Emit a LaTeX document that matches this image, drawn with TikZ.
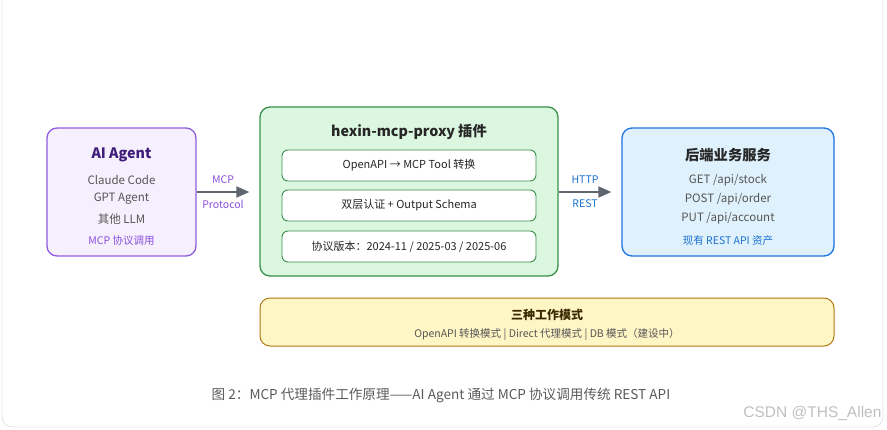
\documentclass[tikz,border=0pt]{standalone}
\usepackage{fontspec}
\setmainfont{Noto Sans CJK SC}
\newfontfamily\wmfont{Liberation Sans}
\usetikzlibrary{arrows.meta}
\definecolor{pBorder}{HTML}{8E5CE0}
\definecolor{pFill}{HTML}{F6EFFE}
\definecolor{pTitle}{HTML}{3F1D7A}
\definecolor{pText}{HTML}{8A4FDC}
\definecolor{gBorder}{HTML}{3A8F4A}
\definecolor{gFill}{HTML}{DCF7DF}
\definecolor{bBorder}{HTML}{1F74E0}
\definecolor{bFill}{HTML}{DFF1FC}
\definecolor{bText}{HTML}{1A6FD0}
\definecolor{yBorder}{HTML}{B07A10}
\definecolor{yFill}{HTML}{FFF6C6}
\definecolor{yTitle}{HTML}{3A2800}
\definecolor{txtGray}{HTML}{555555}
\definecolor{arrGray}{HTML}{5F6670}
\definecolor{capGray}{HTML}{5A5A5A}
\tikzset{
  bigbox/.style={draw, line width=1.3pt, rounded corners=10pt, inner sep=0pt},
  innerbox/.style={draw=gBorder, fill=white, line width=0.9pt, rounded corners=6pt, inner sep=0pt,
    minimum width=254pt, minimum height=31pt, font=\fontsize{11}{13}\selectfont, text=black!85},
  titletxt/.style={font=\fontsize{14.3}{16}\selectfont\bfseries},
  linetxt/.style={font=\fontsize{11.5}{14}\selectfont, text=txtGray},
  smalltxt/.style={font=\fontsize{10.5}{13}\selectfont},
  flow/.style={draw=arrGray, line width=1.8pt, -{Triangle[length=13pt,width=11pt]}}
}
\begin{document}
\begin{tikzpicture}[x=1pt,y=-1pt]
\useasboundingbox (0,0) rectangle (887,429);
\draw[gray!22, line width=0.8pt, rounded corners=10pt] (2,-12) rectangle (883,427);

% AI Agent
\node[bigbox, draw=pBorder, fill=pFill, minimum width=149pt, minimum height=128pt] (agent) at (121.5,192) {};
\node[titletxt, text=pTitle] (agentT) at (121.5,155) {AI Agent};
\node[linetxt] (a1) at (121.5,180) {Claude Code};
\node[linetxt] (a2) at (121.5,199) {GPT Agent};
\node[linetxt] (a3) at (121.5,219) {其他 LLM};
\node[smalltxt, text=pText] (a4) at (121.5,241) {MCP 协议调用};

% Proxy
\node[bigbox, draw=gBorder, fill=gFill, minimum width=298pt, minimum height=169pt] (proxy) at (409,191.5) {};
\node[titletxt, text=black!85] (proxyT) at (409,132) {hexin-mcp-proxy 插件};
\node[innerbox] (p1) at (409,165.5) {OpenAPI → MCP Tool 转换};
\node[innerbox] (p2) at (409,205.5) {双层认证 + Output Schema};
\node[innerbox] (p3) at (409,246.5) {协议版本：2024-11 / 2025-03 / 2025-06};

% Backend
\node[bigbox, draw=bBorder, fill=bFill, minimum width=212pt, minimum height=128pt] (backend) at (728,192) {};
\node[titletxt, text=black!85] (backT) at (728,155) {后端业务服务};
\node[linetxt] (b1) at (728,180) {GET /api/stock};
\node[linetxt] (b2) at (728,199) {POST /api/order};
\node[linetxt] (b3) at (728,218) {PUT /api/account};
\node[smalltxt, text=bText] (b4) at (728,241) {现有 REST API 资产};

% Modes
\node[bigbox, draw=yBorder, fill=yFill, line width=1pt, minimum width=574pt, minimum height=48pt] (modes) at (547,322) {};
\node[font=\fontsize{12}{14}\selectfont\bfseries, text=yTitle] (modesT) at (547,315) {三种工作模式};
\node[smalltxt, text=txtGray] (modesS) at (547,334) {OpenAPI 转换模式 | Direct 代理模式 | DB 模式（建设中）};

% Arrows
\draw[flow, shorten >=10pt] (agent.east) -- (agent.east -| proxy.west);
\node[smalltxt, text=pText] (l1) at (223,180) {MCP};
\node[smalltxt, text=pText] (l2) at (223,204) {Protocol};
\draw[flow, shorten >=10pt] (proxy.east |- backend.west) -- (backend.west);
\node[smalltxt, text=bText] (l3) at (585,180) {HTTP};
\node[smalltxt, text=bText] (l4) at (585,204) {REST};

% Caption
\node[font=\fontsize{13.6}{16}\selectfont, text=capGray] (cap) at (441,395) {图 2：MCP 代理插件工作原理——AI Agent 通过 MCP 协议调用传统 REST API};
\node[font=\wmfont\fontsize{15.5}{18}\selectfont, text=gray!50, anchor=east] (wm) at (885,413) {CSDN @THS\_Allen};
\end{tikzpicture}
\end{document}
